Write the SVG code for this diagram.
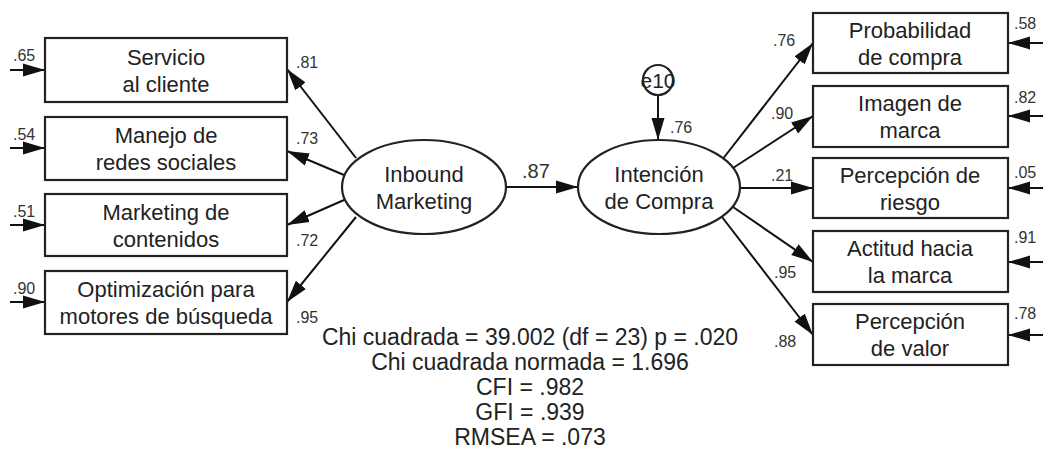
<svg xmlns="http://www.w3.org/2000/svg" width="1047" height="453" viewBox="0 0 1047 453">
  <style>
    .box { fill: #fff; stroke: #222; stroke-width: 2.2; }
    .lat { fill: #fff; stroke: #222; stroke-width: 2.2; }
    .lbl { font-family: "Liberation Sans", Arial, sans-serif; font-size: 22px; fill: #222; text-anchor: middle; }
    .num { font-family: "Liberation Sans", Arial, sans-serif; font-size: 16px; fill: #333; }
    .fit { font-family: "Liberation Sans", Arial, sans-serif; font-size: 23px; fill: #222; text-anchor: middle; }
    .edge { stroke: #111; stroke-width: 2; fill: none; marker-end: url(#ah); }
  </style>
  <defs>
    <marker id="ah" markerUnits="userSpaceOnUse" markerWidth="24" markerHeight="14" refX="22" refY="7" orient="auto">
      <path d="M0,0.5 L22,7 L0,13.5 z" fill="#111"/>
    </marker>
  </defs>
  <rect width="1047" height="453" fill="#fff"/>

  <!-- connectors -->
  <g id="connectors">
    <!-- error terms, left indicators -->
    <line class="edge" x1="10" y1="70" x2="45" y2="70"/>
    <line class="edge" x1="10" y1="148" x2="45" y2="148"/>
    <line class="edge" x1="10" y1="225" x2="45" y2="225"/>
    <line class="edge" x1="10" y1="302" x2="45" y2="302"/>
    <!-- error terms, right indicators -->
    <line class="edge" x1="1043" y1="43" x2="1008" y2="43"/>
    <line class="edge" x1="1043" y1="116" x2="1008" y2="116"/>
    <line class="edge" x1="1043" y1="188" x2="1008" y2="188"/>
    <line class="edge" x1="1043" y1="262" x2="1008" y2="262"/>
    <line class="edge" x1="1043" y1="335" x2="1008" y2="335"/>
    <!-- loadings, Inbound Marketing -->
    <line class="edge" x1="356" y1="158" x2="287" y2="69"/>
    <line class="edge" x1="344" y1="175" x2="287" y2="151"/>
    <line class="edge" x1="344" y1="200" x2="287" y2="225"/>
    <line class="edge" x1="356" y1="217" x2="287" y2="302"/>
    <!-- structural path -->
    <line class="edge" x1="506" y1="187" x2="578" y2="187"/>
    <!-- disturbance -->
    <line class="edge" x1="658" y1="95" x2="658" y2="140"/>
    <!-- loadings, Intención de Compra -->
    <line class="edge" x1="722" y1="160" x2="813" y2="43"/>
    <line class="edge" x1="733" y1="168" x2="813" y2="116"/>
    <line class="edge" x1="740" y1="188" x2="813" y2="188"/>
    <line class="edge" x1="733" y1="207" x2="813" y2="262"/>
    <line class="edge" x1="722" y1="217" x2="813" y2="335"/>
  </g>

  <!-- left indicators -->
  <g id="servicio">
    <rect class="box" x="45" y="38" width="242" height="64"/>
    <text class="lbl" x="166" y="65">Servicio</text>
    <text class="lbl" x="166" y="92">al cliente</text>
    <text class="num" x="13" y="61">.65</text>
  </g>
  <g id="redes">
    <rect class="box" x="45" y="117" width="242" height="63"/>
    <text class="lbl" x="166" y="143">Manejo de</text>
    <text class="lbl" x="166" y="170">redes sociales</text>
    <text class="num" x="13" y="140">.54</text>
  </g>
  <g id="contenidos">
    <rect class="box" x="45" y="194" width="242" height="62"/>
    <text class="lbl" x="166" y="220">Marketing de</text>
    <text class="lbl" x="166" y="247">contenidos</text>
    <text class="num" x="13" y="217">.51</text>
  </g>
  <g id="seo">
    <rect class="box" x="45" y="271" width="242" height="63"/>
    <text class="lbl" x="166" y="297">Optimización para</text>
    <text class="lbl" x="166" y="324">motores de búsqueda</text>
    <text class="num" x="13" y="294">.90</text>
  </g>

  <!-- loading labels, left -->
  <g id="loadings-left">
    <text class="num" x="296" y="68">.81</text>
    <text class="num" x="296" y="144">.73</text>
    <text class="num" x="296" y="246">.72</text>
    <text class="num" x="296" y="323">.95</text>
  </g>

  <!-- latent variables -->
  <g id="inbound">
    <ellipse class="lat" cx="424" cy="187" rx="82" ry="47"/>
    <text class="lbl" x="424" y="182">Inbound</text>
    <text class="lbl" x="424" y="209">Marketing</text>
  </g>
  <text class="num" x="522" y="178" style="font-size:20px">.87</text>
  <g id="intencion">
    <ellipse class="lat" cx="659" cy="187" rx="81" ry="47"/>
    <text class="lbl" x="659" y="182">Intención</text>
    <text class="lbl" x="659" y="209">de Compra</text>
  </g>
  <g id="e10">
    <circle class="lat" cx="658" cy="80" r="15"/>
    <text class="lbl" x="658" y="88" style="font-size:21px">e10</text>
    <text class="num" x="670" y="133">.76</text>
  </g>

  <!-- right indicators -->
  <g id="probabilidad">
    <rect class="box" x="813" y="13" width="195" height="60"/>
    <text class="lbl" x="910" y="38">Probabilidad</text>
    <text class="lbl" x="910" y="65">de compra</text>
    <text class="num" x="1014" y="29">.58</text>
  </g>
  <g id="imagen">
    <rect class="box" x="813" y="86" width="195" height="61"/>
    <text class="lbl" x="910" y="111">Imagen de</text>
    <text class="lbl" x="910" y="138">marca</text>
    <text class="num" x="1014" y="103">.82</text>
  </g>
  <g id="riesgo">
    <rect class="box" x="813" y="158" width="195" height="60"/>
    <text class="lbl" x="910" y="183">Percepción de</text>
    <text class="lbl" x="910" y="210">riesgo</text>
    <text class="num" x="1014" y="178">.05</text>
  </g>
  <g id="actitud">
    <rect class="box" x="813" y="231" width="195" height="61"/>
    <text class="lbl" x="910" y="256">Actitud hacia</text>
    <text class="lbl" x="910" y="283">la marca</text>
    <text class="num" x="1014" y="243">.91</text>
  </g>
  <g id="valor">
    <rect class="box" x="813" y="304" width="195" height="61"/>
    <text class="lbl" x="910" y="329">Percepción</text>
    <text class="lbl" x="910" y="356">de valor</text>
    <text class="num" x="1014" y="319">.78</text>
  </g>

  <!-- loading labels, right -->
  <g id="loadings-right">
    <text class="num" x="773" y="46">.76</text>
    <text class="num" x="771" y="119">.90</text>
    <text class="num" x="771" y="181">.21</text>
    <text class="num" x="774" y="278">.95</text>
    <text class="num" x="774" y="347">.88</text>
  </g>

  <!-- fit indices -->
  <g id="fit">
    <text class="fit" x="530" y="345">Chi cuadrada = 39.002 (df = 23) p = .020</text>
    <text class="fit" x="530" y="370">Chi cuadrada normada = 1.696</text>
    <text class="fit" x="530" y="395">CFI = .982</text>
    <text class="fit" x="530" y="420">GFI = .939</text>
    <text class="fit" x="530" y="445">RMSEA = .073</text>
  </g>
</svg>
